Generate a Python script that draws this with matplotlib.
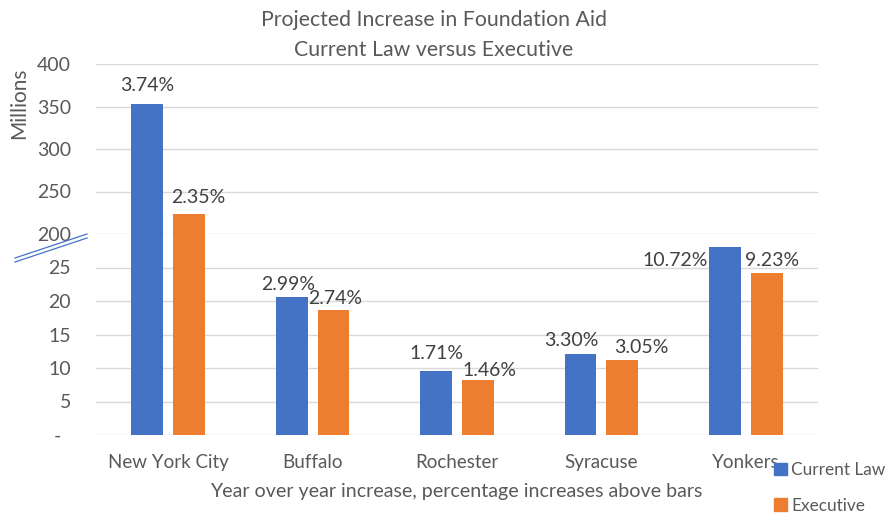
"""
Projected Increase in Foundation Aid - Current Law versus Executive
broken y-axis bar chart (0-30 below, 200-400 above)
"""

import matplotlib
matplotlib.use("Agg")
import matplotlib.pyplot as plt
from matplotlib.patches import Patch
import numpy as np

plt.rcParams.update({
    "font.family": ["Lato", "DejaVu Sans"],
    "text.color": "#595959",
    "xtick.color": "#595959",
    "ytick.color": "#595959",
})

CITIES = ["New York City", "Buffalo", "Rochester", "Syracuse", "Yonkers"]
CURRENT_LAW = [353, 20.6, 9.6, 12.1, 28.1]
EXECUTIVE = [223, 18.7, 8.2, 11.2, 24.2]
CURRENT_PCT = ["3.74%", "2.99%", "1.71%", "3.30%", "10.72%"]
EXECUTIVE_PCT = ["2.35%", "2.74%", "1.46%", "3.05%", "9.23%"]

LOW_TICKS = [0, 5, 10, 15, 20, 25]
LOW_TICKLABELS = ["-  ", "5", "10", "15", "20", "25"]
HIGH_TICKS = [200, 250, 300, 350, 400]

BLUE = "#4472C4"
ORANGE = "#ED7D31"
GRID = "#D9D9D9"

# label nudges in pixels (dx, dy from bar top), as placed in the original
CUR_NUDGE = [(0, 18), (-4, 12), (0, 17), (-9, 13), (-50, -14)]
EXE_NUDGE = [(9, 17), (2, 11), (12, 10), (19, 12), (5, 12)]


def main():
    fig = plt.figure(figsize=(8.88, 5.18), dpi=100)
    left, right = 96 / 888, 818 / 888
    y0 = 1 - 435 / 518
    ybrk = 1 - 234 / 518
    ytop = 1 - 64 / 518
    ax_lo = fig.add_axes([left, y0, right - left, ybrk - y0])
    ax_hi = fig.add_axes([left, ybrk, right - left, ytop - ybrk], sharex=ax_lo)

    x = np.arange(len(CITIES))
    w = 0.22
    off = 0.145

    for ax in (ax_lo, ax_hi):
        ax.bar(x - off, CURRENT_LAW, w, color=BLUE, zorder=3)
        ax.bar(x + off, EXECUTIVE, w, color=ORANGE, zorder=3)
        ax.yaxis.grid(True, color=GRID, linewidth=1, zorder=0)
        for s in ax.spines.values():
            s.set_visible(False)
        ax.tick_params(axis="both", length=0)
        ax.tick_params(axis="y", pad=18, labelsize=14)
        ax.set_facecolor("none")

    ax_lo.set_ylim(0, 30)
    ax_lo.set_yticks(LOW_TICKS)
    ax_lo.set_yticklabels(LOW_TICKLABELS)
    ax_hi.set_ylim(200, 400)
    ax_hi.set_yticks(HIGH_TICKS)
    ax_hi.tick_params(axis="x", labelbottom=False)
    ax_lo.set_xlim(-0.5, len(CITIES) - 0.5)
    ax_lo.set_xticks(x)
    ax_lo.set_xticklabels(CITIES, fontsize=13.5)
    ax_lo.tick_params(axis="x", pad=14)

    # percentage labels
    for i in range(len(CITIES)):
        for val, txt, nud, dx in ((CURRENT_LAW[i], CURRENT_PCT[i], CUR_NUDGE[i], -off),
                                  (EXECUTIVE[i], EXECUTIVE_PCT[i], EXE_NUDGE[i], off)):
            ax = ax_hi if val > 30 else ax_lo
            ax.annotate(txt, (x[i] + dx, val), xytext=nud, textcoords="offset pixels",
                        ha="center", va="center", fontsize=14, color="#404040", zorder=5)

    # break marks
    for dy in (0, 4):
        fig.add_artist(plt.Line2D([15 / 888, 87 / 888],
                                  [1 - (258 + dy) / 518, 1 - (234 + dy) / 518],
                                  color=BLUE, linewidth=0.9))

    fig.text(434 / 888, 1 - 20 / 518, "Projected Increase in Foundation Aid",
             ha="center", va="center", fontsize=15.3)
    fig.text(434 / 888, 1 - 50 / 518, "Current Law versus Executive",
             ha="center", va="center", fontsize=15.3)
    fig.text(19 / 888, 1 - 103 / 518, "Millions", rotation=90,
             ha="center", va="center", fontsize=15)
    fig.text(456 / 888, 1 - 492 / 518,
             "Year over year increase, percentage increases above bars",
             ha="center", va="center", fontsize=14.1)

    handles = [Patch(color=BLUE, label="Current Law"), Patch(color=ORANGE, label="Executive")]
    fig.legend(handles=handles, loc="upper left", bbox_to_anchor=(774 / 888, 1 - 462 / 518),
               frameon=False, fontsize=12.4, handlelength=0.75, handleheight=0.75,
               handletextpad=0.25, labelspacing=1.15, borderpad=0, borderaxespad=0)

    fig.savefig("out.png", dpi=100)
    plt.close(fig)


if __name__ == "__main__":
    main()
